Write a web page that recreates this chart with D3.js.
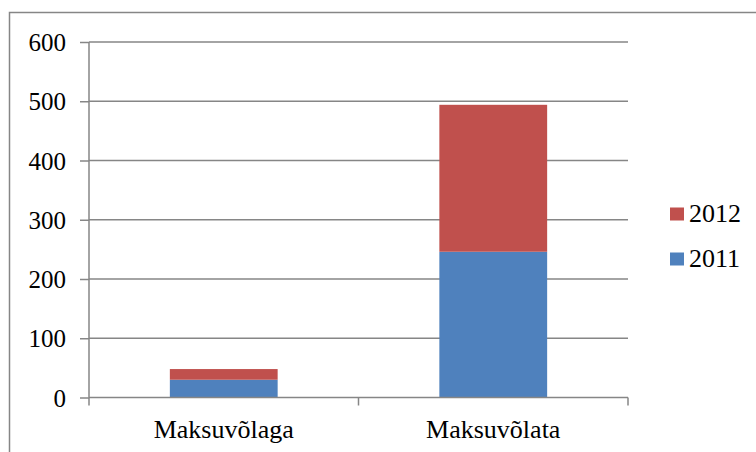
<!DOCTYPE html>
<html>
<head>
<meta charset="utf-8">
<script src="https://cdn.jsdelivr.net/npm/d3@7"></script>
<style>
  body { margin: 0; background: #fff; }
  svg text { font-family: "Liberation Serif", "Times New Roman", serif; fill: #000; }
</style>
</head>
<body>
<div id="chart"></div>
<script>
// data
const categories = ['Maksuvõlaga', 'Maksuvõlata'];
const years = ['2011', '2012'];
const values2011 = [30, 246];
const values2012 = [18, 248];
const yTicks = [0, 100, 200, 300, 400, 500, 600];
const colors = ['#4f81bd', '#c0504d'];

const W = 756, H = 452;
const plot = {left: 89, right: 628, top: 42, bottom: 397.5};

const svg = d3.select('#chart')
  .append('svg')
  .attr('width', W)
  .attr('height', H);

// outer chart border (runs off the right and bottom edge)
svg.append('rect')
  .attr('x', 9.5)
  .attr('y', 12.5)
  .attr('width', 800)
  .attr('height', 500)
  .attr('fill', 'none')
  .attr('stroke', '#868686')
  .attr('stroke-width', 1.5);

const x = d3.scaleBand()
  .domain(categories)
  .range([plot.left, plot.right])
  .paddingInner(0.6)
  .paddingOuter(0.3);

const y = d3.scaleLinear()
  .domain([0, 600])
  .range([plot.bottom, plot.top]);

// gridlines
svg.append('g')
  .selectAll('line')
  .data(yTicks.filter(d => d > 0))
  .join('line')
  .attr('x1', plot.left)
  .attr('x2', plot.right)
  .attr('y1', d => y(d))
  .attr('y2', d => y(d))
  .attr('stroke', '#868686')
  .attr('stroke-width', 1.5);

// stacked bars
const rows = categories.map((c, i) => ({cat: c, '2011': values2011[i], '2012': values2012[i]}));
const stack = d3.stack().keys(years)(rows);

svg.append('g')
  .selectAll('g')
  .data(stack)
  .join('g')
  .attr('fill', (d, i) => colors[i])
  .selectAll('rect')
  .data(d => d)
  .join('rect')
  .attr('x', d => x(d.data.cat))
  .attr('width', x.bandwidth())
  .attr('y', d => y(d[1]))
  .attr('height', d => y(d[0]) - y(d[1]));

// y axis
const yAxis = svg.append('g')
  .attr('transform', 'translate(' + plot.left + ',0)')
  .call(d3.axisLeft(y).tickValues(yTicks).tickSize(9).tickPadding(14));
yAxis.attr('font-family', null).attr('font-size', null);
yAxis.selectAll('line, path').attr('stroke', '#868686').attr('stroke-width', 1.5);
yAxis.select('.domain').attr('d', 'M0,' + plot.top + 'V' + plot.bottom);
yAxis.selectAll('text')
  .style('font-size', '25px')
  .attr('dy', '0.34em');

// x axis
const xAxis = svg.append('g')
  .attr('transform', 'translate(0,' + plot.bottom + ')')
  .call(d3.axisBottom(x).tickSize(0).tickPadding(0));
xAxis.attr('font-family', null).attr('font-size', null);
xAxis.select('.domain').attr('stroke', '#868686').attr('stroke-width', 1.5)
  .attr('d', 'M' + plot.left + ',0H' + plot.right);
xAxis.selectAll('.tick text')
  .style('font-size', '26px')
  .attr('y', 40)
  .attr('dy', 0);

// category separator ticks
const bounds = [plot.left, plot.left + x.step(), plot.right];
xAxis.append('g')
  .selectAll('line')
  .data(bounds)
  .join('line')
  .attr('x1', d => d)
  .attr('x2', d => d)
  .attr('y1', 0)
  .attr('y2', 8)
  .attr('stroke', '#868686')
  .attr('stroke-width', 1.5);

// legend, 2012 on top
const legendYears = years.slice().reverse();
const legend = svg.append('g')
  .selectAll('g')
  .data(legendYears)
  .join('g')
  .attr('transform', (d, i) => 'translate(670,' + (207.5 + i * 45) + ')');

legend.append('rect')
  .attr('width', 14)
  .attr('height', 13)
  .attr('fill', d => colors[years.indexOf(d)]);

legend.append('text')
  .attr('x', 19)
  .attr('y', 14)
  .style('font-size', '26px')
  .text(d => d);
</script>
</body>
</html>
